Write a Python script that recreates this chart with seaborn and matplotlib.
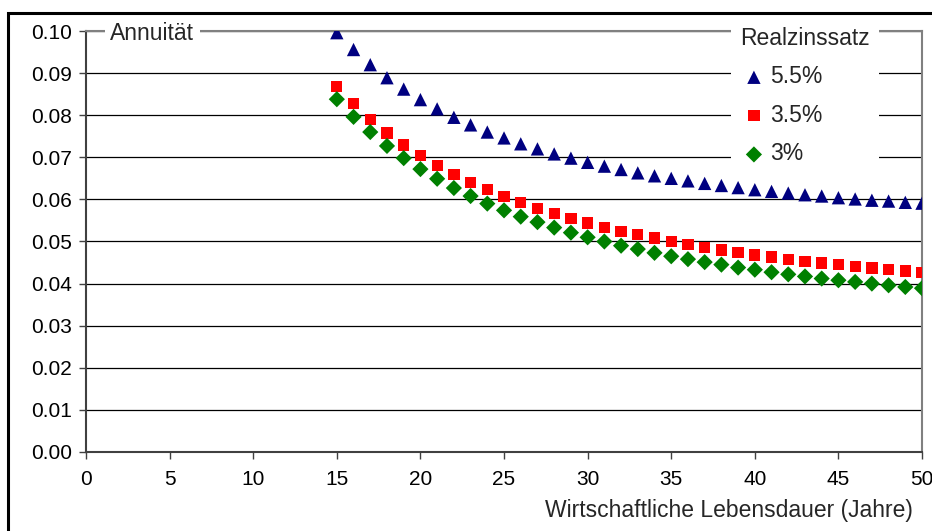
import matplotlib
matplotlib.use("Agg")
import matplotlib.pyplot as plt
import seaborn as sns
import pandas as pd
from matplotlib.patches import Rectangle

years = list(range(15, 51))
rate_labels = ["5.5%", "3.5%", "3%"]
annuity_55 = [0.0996, 0.0956, 0.0920, 0.0889, 0.0862, 0.0837, 0.0815, 0.0795, 0.0777, 0.0760,
              0.0746, 0.0732, 0.0720, 0.0708, 0.0698, 0.0688, 0.0679, 0.0671, 0.0663, 0.0656,
              0.0650, 0.0644, 0.0638, 0.0633, 0.0628, 0.0623, 0.0619, 0.0615, 0.0611, 0.0608,
              0.0604, 0.0601, 0.0598, 0.0596, 0.0593, 0.0591]
annuity_35 = [0.0868, 0.0827, 0.0790, 0.0758, 0.0729, 0.0704, 0.0680, 0.0659, 0.0640, 0.0623,
              0.0607, 0.0592, 0.0579, 0.0566, 0.0555, 0.0544, 0.0534, 0.0524, 0.0516, 0.0508,
              0.0500, 0.0493, 0.0486, 0.0480, 0.0474, 0.0468, 0.0463, 0.0458, 0.0453, 0.0449,
              0.0445, 0.0441, 0.0437, 0.0433, 0.0430, 0.0426]
annuity_3 = [0.0838, 0.0796, 0.0760, 0.0727, 0.0698, 0.0672, 0.0649, 0.0627, 0.0608, 0.0590,
             0.0574, 0.0559, 0.0546, 0.0533, 0.0521, 0.0510, 0.0500, 0.0490, 0.0482, 0.0473,
             0.0465, 0.0458, 0.0451, 0.0445, 0.0438, 0.0433, 0.0427, 0.0422, 0.0417, 0.0412,
             0.0408, 0.0404, 0.0400, 0.0396, 0.0392, 0.0389]

df = pd.DataFrame({
    "Jahre": years * 3,
    "Annuität": annuity_55 + annuity_35 + annuity_3,
    "Realzinssatz": [rate_labels[0]] * len(years) + [rate_labels[1]] * len(years) + [rate_labels[2]] * len(years),
})

sns.set_theme(style="white")
plt.rcParams["font.family"] = ["Liberation Sans", "DejaVu Sans"]

TICK_FS = 15
TEXT_FS = 16.5

fig = plt.figure(figsize=(9.32, 5.31), dpi=100)
ax = fig.add_axes([0.0923, 0.1488, 0.8970, 0.7928])

palette = {"5.5%": "#000080", "3.5%": "#FF0000", "3%": "#008000"}
markers = {"5.5%": "^", "3.5%": "s", "3%": "D"}
sizes = {"5.5%": 92, "3.5%": 66, "3%": 68}
for lab in rate_labels:
    sub = df[df["Realzinssatz"] == lab]
    sns.scatterplot(data=sub, x="Jahre", y="Annuität", color=palette[lab], marker=markers[lab],
                    s=sizes[lab], edgecolor="none", linewidth=0, label=lab, ax=ax, zorder=3)

ax.set_xlim(0, 50)
ax.set_ylim(0, 0.10)
ax.set_xticks(range(0, 51, 5))
ax.set_yticks([i / 100 for i in range(0, 11)])
ax.set_yticklabels([f"{i/100:.2f}" for i in range(0, 11)], fontsize=TICK_FS)
ax.set_xticklabels([str(v) for v in range(0, 51, 5)], fontsize=TICK_FS)
ax.tick_params(axis="x", direction="out", length=5, width=1, color="#404040", pad=8, labelcolor="black")
ax.tick_params(axis="y", direction="out", length=5, width=1, color="#404040", pad=5, labelcolor="black")
ax.tick_params(axis="both", bottom=True, left=True)

ax.grid(axis="y", color="black", linewidth=0.9, zorder=0)
ax.grid(axis="x", visible=False)
ax.set_axisbelow(True)

for s in ["left", "bottom"]:
    ax.spines[s].set_color("#404040")
    ax.spines[s].set_linewidth(1.5)
for s in ["right", "top"]:
    ax.spines[s].set_color("#808080")
    ax.spines[s].set_linewidth(1.5)

ax.set_ylabel("")
ax.set_xlabel("Wirtschaftliche Lebensdauer (Jahre)", fontsize=TEXT_FS, ha="right", va="top")
ax.xaxis.set_label_coords(0.989, -0.112)

ax.text(0.029, 0.995, "Annuität", transform=ax.transAxes, ha="left", va="center", fontsize=TEXT_FS,
        bbox=dict(facecolor="white", edgecolor="none", pad=4), zorder=5)

leg = ax.legend(title="Realzinssatz", loc="upper left", bbox_to_anchor=(0.7715, 1.032),
                frameon=True, fancybox=False, fontsize=TEXT_FS, title_fontsize=TEXT_FS,
                labelspacing=0.68, handletextpad=0.1, borderpad=0.4, handlelength=1.2,
                borderaxespad=0, markerscale=1.0, alignment="left")
leg.get_frame().set_facecolor("white")
leg.get_frame().set_edgecolor("none")
leg.get_frame().set_alpha(1)
leg.set_zorder(6)

fig.patches.append(Rectangle((8 / 932, -0.1), 1.2, 1 - 13 / 531 + 0.1, transform=fig.transFigure,
                             fill=False, edgecolor="black", linewidth=2.2))

fig.savefig("out.png", dpi=100)
